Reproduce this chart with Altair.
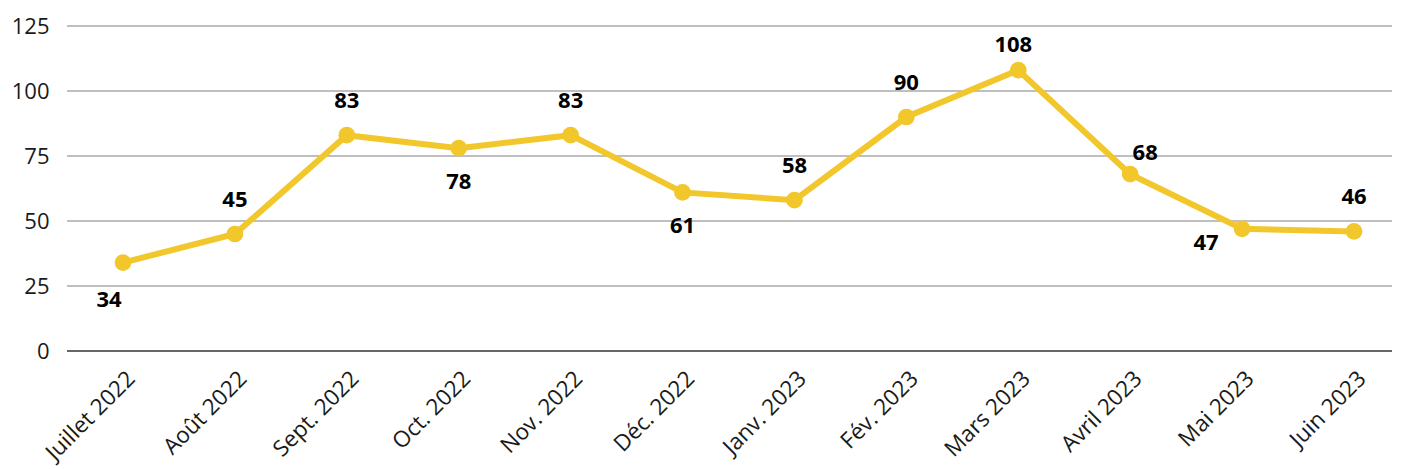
import altair as alt
import pandas as pd

months = ["Juillet 2022", "Août 2022", "Sept. 2022", "Oct. 2022", "Nov. 2022", "Déc. 2022",
          "Janv. 2023", "Fév. 2023", "Mars 2023", "Avril 2023", "Mai 2023", "Juin 2023"]
values = [34, 45, 83, 78, 83, 61, 58, 90, 108, 68, 47, 46]
placement = ["belowleft", "above", "above", "below", "above", "below",
             "above", "above", "abovenear", "aboveright", "left", "above"]
y_ticks = [0, 25, 50, 75, 100, 125]

df = pd.DataFrame({"month": months, "value": values, "place": placement})
grid_df = pd.DataFrame({"value": y_ticks[1:]})
zero_df = pd.DataFrame({"value": y_ticks[:1]})

FONT = "Open Sans"
YELLOW = "#F2C72B"
W, H = 1325, 325

yscale = alt.Scale(domain=[0, 125], nice=False)
yaxis = alt.Axis(values=y_ticks, labelFontSize=22, labelFont=FONT,
                 labelColor="#1a1a1a", ticks=False, domain=False, labelPadding=18,
                 grid=False)

x = alt.X("month:N", sort=months, title=None,
          scale=alt.Scale(type="point", range=[56, 1287], padding=0),
          axis=alt.Axis(labelAngle=-45, labelFontSize=22.5, labelFont=FONT, labelColor="#1a1a1a",
                        ticks=False, domain=False, grid=False, labelPadding=16))
y = alt.Y("value:Q", title=None, scale=yscale, axis=yaxis)

base = alt.Chart(df)

grid = alt.Chart(grid_df).mark_rule(color="#bfbfbf", strokeWidth=2).encode(
    y=y, x=alt.value(0), x2=alt.value(W + 10))
zero = alt.Chart(zero_df).mark_rule(color="#666666", strokeWidth=2).encode(
    y=y, x=alt.value(0), x2=alt.value(W + 10))

line = base.mark_line(color=YELLOW, strokeWidth=6).encode(x=x, y=y)
pts = base.mark_circle(color=YELLOW, size=280, opacity=1).encode(x=x, y=y)

offsets = {
    "above": (0, -34),
    "below": (0, 34),
    "belowleft": (-14, 37),
    "abovenear": (-5, -25),
    "aboveright": (15, -21),
    "left": (-36, 14),
}

labels = []
for name, (dx, dy) in offsets.items():
    labels.append(
        base.transform_filter(alt.datum.place == name)
        .mark_text(font=FONT, fontSize=22, fontWeight="bold", color="#000000",
                   dx=dx, dy=dy, baseline="middle", align="center")
        .encode(x=x, y=y, text="value:Q")
    )

chart = alt.layer(grid, zero, line, pts, *labels).properties(
    width=W, height=H,
    background="white",
    autosize=alt.AutoSizeParams(type="none"),
    padding={"left": 59, "top": 18, "right": 0, "bottom": 118},
).configure_view(stroke=None)

chart.save("out.html", embed_options={"renderer": "svg", "actions": False})
